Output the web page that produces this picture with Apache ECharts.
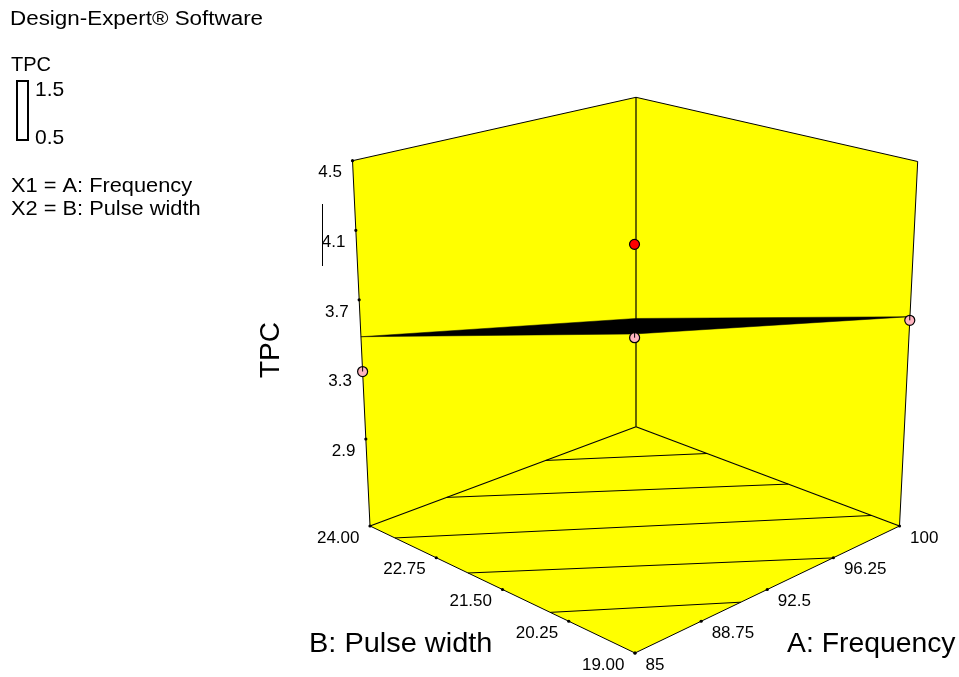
<!DOCTYPE html>
<html>
<head>
<meta charset="utf-8">
<style>
  html, body { margin: 0; padding: 0; background: #fff; }
  #chart { width: 959px; height: 677px; }
</style>
<script src="https://cdn.jsdelivr.net/npm/echarts@6/dist/echarts.min.js"></script>
</head>
<body>
<div id="chart"></div>
<script>
// axis ranges and ticks
const rangeA = [85, 100]
const rangeB = [19, 24]
const rangeTPC = [2.4, 4.5]
const ticksA = [85, 88.75, 92.5, 96.25, 100]
const labelsA = ['85', '88.75', '92.5', '96.25', '100']
const ticksB = [24, 22.75, 21.5, 20.25, 19]
const labelsB = ['24.00', '22.75', '21.50', '20.25', '19.00']
const ticksTPC = [4.5, 4.1, 3.7, 3.3, 2.9]
const labelsTPC = ['4.5', '4.1', '3.7', '3.3', '2.9']

// fitted surface, corners
const surfaceA = [85, 100, 100, 85]
const surfaceB = [19, 19, 24, 24]
const surfaceTPC = [4.034, 3.606, 3.09, 3.488]

// design runs
const runA = [85, 85, 85, 100]
const runB = [19, 19, 24, 19]
const runTPC = [4.493, 4.015, 3.288, 3.585]
const runAbove = [true, false, false, false]

// contour lines on the floor, start and end
const contourA1 = [94.9, 89.32, 85, 85, 85]
const contourB1 = [24, 24, 23.53, 22.15, 20.6]
const contourA2 = [100, 100, 100, 96.23, 91]
const contourB2 = [22.65, 21.11, 19.53, 19, 19]

// view of the box: where its 8 corners land, indexed [A hi][B hi][TPC hi]
const boxX = [[[635, 634.5], [370, 352.5]], [[899.5, 917.7], [636, 636]]]
const boxY = [[[653, 243], [526, 160.7]], [[526, 161.5], [426.7, 97.3]]]

const FONT = '"Liberation Sans", Arial, sans-serif'

function project(a, b, z) {
  const u = (a - rangeA[0]) / (rangeA[1] - rangeA[0])
  const v = (b - rangeB[0]) / (rangeB[1] - rangeB[0])
  const w = (z - rangeTPC[0]) / (rangeTPC[1] - rangeTPC[0])
  const mix = (box) => {
    const lo = (i, j) => box[i][j][0] * (1 - w) + box[i][j][1] * w
    const front = lo(0, 0) * (1 - v) + lo(0, 1) * v
    const back = lo(1, 0) * (1 - v) + lo(1, 1) * v
    return front * (1 - u) + back * u
  }
  return [mix(boxX), mix(boxY)]
}

const chart = echarts.init(document.getElementById('chart'))

function poly(api, pts, style) {
  return {
    type: 'polygon',
    shape: { points: pts.map(p => api.coord(project(p[0], p[1], p[2]))) },
    style: style
  }
}

function seg(api, p, q, width) {
  const s = api.coord(project(p[0], p[1], p[2]))
  const e = api.coord(project(q[0], q[1], q[2]))
  return {
    type: 'line',
    shape: { x1: s[0], y1: s[1], x2: e[0], y2: e[1] },
    style: { stroke: '#000', lineWidth: width }
  }
}

const [a0, a1] = rangeA
const [b0, b1] = rangeB
const [z0, z1] = rangeTPC

function renderBox(params, api) {
  const yellow = { fill: '#ffff00', stroke: null }
  return {
    type: 'group',
    children: [
      poly(api, [[a0, b1, z0], [a0, b1, z1], [a1, b1, z1], [a1, b1, z0]], yellow),
      poly(api, [[a1, b0, z0], [a1, b0, z1], [a1, b1, z1], [a1, b1, z0]], yellow),
      poly(api, [[a0, b0, z0], [a1, b0, z0], [a1, b1, z0], [a0, b1, z0]], yellow),
      seg(api, [a0, b1, z0], [a0, b1, z1], 1),
      seg(api, [a0, b1, z1], [a1, b1, z1], 1),
      seg(api, [a1, b1, z1], [a1, b0, z1], 1),
      seg(api, [a1, b0, z1], [a1, b0, z0], 1),
      seg(api, [a1, b1, z0], [a1, b1, z1], 1.2),
      seg(api, [a0, b1, z0], [a1, b1, z0], 1.2),
      seg(api, [a1, b1, z0], [a1, b0, z0], 1.2),
      seg(api, [a0, b0, z0], [a0, b1, z0], 1),
      seg(api, [a0, b0, z0], [a1, b0, z0], 1)
    ]
  }
}

function renderContour(params, api) {
  return seg(api, [api.value(0), api.value(1), z0], [api.value(2), api.value(3), z0], 1)
}

function renderSurface(params, api) {
  const pts = surfaceA.map((a, i) => [a, surfaceB[i], surfaceTPC[i]])
  return poly(api, pts, { fill: '#000', stroke: '#000', lineWidth: 0.5 })
}

function renderTick(params, api) {
  const p = api.coord(project(api.value(0), api.value(1), api.value(2)))
  const side = api.value(3)
  return {
    type: 'group',
    children: [
      { type: 'circle', shape: { cx: p[0], cy: p[1], r: 1.6 }, style: { fill: '#000' } },
      {
        type: 'text',
        style: {
          text: params.seriesId === 'ticksA' ? labelsA[params.dataIndex]
            : params.seriesId === 'ticksB' ? labelsB[params.dataIndex]
            : labelsTPC[params.dataIndex],
          x: p[0] + side * 10.5,
          y: p[1] + 12,
          align: side > 0 ? 'left' : 'right',
          verticalAlign: 'middle',
          fontFamily: FONT,
          fontSize: 17,
          fill: '#000'
        }
      }
    ]
  }
}

function renderRun(params, api) {
  const p = api.coord(project(api.value(0), api.value(1), api.value(2)))
  const above = runAbove[params.dataIndex]
  const kids = [{
    type: 'circle',
    shape: { cx: p[0], cy: p[1], r: 5 },
    style: { fill: above ? '#ff0000' : '#ffb4c0', stroke: '#000', lineWidth: 1.2 }
  }]
  if (!above) {
    kids.push({
      type: 'line',
      shape: { x1: p[0], y1: p[1] - 5, x2: p[0], y2: p[1] },
      style: { stroke: '#000', lineWidth: 1 }
    })
  }
  return { type: 'group', children: kids }
}

// the original text runs a little wider than the font, so stretch it sideways
function note(text, x, y, size, stretch) {
  return {
    type: 'text',
    silent: true,
    x: x,
    y: y,
    scaleX: stretch || 1,
    style: { text: text, fontFamily: FONT, fontSize: size, fill: '#000', align: 'left', verticalAlign: 'middle' }
  }
}

const base = { type: 'custom', coordinateSystem: 'cartesian2d', silent: true, clip: false, animation: false }

chart.setOption({
  animation: false,
  grid: { left: 0, right: 0, top: 0, bottom: 0 },
  xAxis: { type: 'value', min: 0, max: 959, show: false },
  yAxis: { type: 'value', min: 0, max: 677, inverse: true, show: false },
  series: [
    { ...base, id: 'box', z: 1, renderItem: renderBox, data: [[0, 0]] },
    {
      ...base, id: 'contours', z: 2, renderItem: renderContour,
      encode: { x: 0, y: 1 },
      data: contourA1.map((a, i) => [a, contourB1[i], contourA2[i], contourB2[i]])
    },
    { ...base, id: 'surface', z: 3, renderItem: renderSurface, data: [[0, 0]] },
    {
      ...base, id: 'ticksA', z: 4, renderItem: renderTick, encode: { x: 0, y: 1 },
      data: ticksA.map(a => [a, b0, z0, 1])
    },
    {
      ...base, id: 'ticksB', z: 4, renderItem: renderTick, encode: { x: 0, y: 1 },
      data: ticksB.map(b => [a0, b, z0, -1])
    },
    {
      ...base, id: 'ticksTPC', z: 4, renderItem: renderTick, encode: { x: 0, y: 1 },
      data: ticksTPC.map(z => [a0, b1, z, -1])
    },
    {
      ...base, id: 'runs', z: 5, renderItem: renderRun, encode: { x: 0, y: 1 },
      data: runA.map((a, i) => [a, runB[i], runTPC[i]])
    }
  ],
  graphic: [
    note('Design-Expert® Software', 10, 19, 20, 1.12),
    note('TPC', 11, 65, 20),
    note('1.5', 35, 90, 21),
    note('0.5', 35, 138, 21),
    note('X1 = A: Frequency', 11, 186, 20, 1.09),
    note('X2 = B: Pulse width', 11, 209, 20, 1.09),
    {
      type: 'rect', silent: true,
      shape: { x: 17, y: 81, width: 11, height: 59 },
      style: { fill: '#fff', stroke: '#000', lineWidth: 2 }
    },
    {
      type: 'line', silent: true,
      shape: { x1: 322.5, y1: 204, x2: 322.5, y2: 266 },
      style: { stroke: '#000', lineWidth: 1 }
    },
    {
      type: 'text', silent: true, x: 271, y: 350, rotation: Math.PI / 2,
      style: { text: 'TPC', fontFamily: FONT, fontSize: 28, fill: '#000', align: 'center', verticalAlign: 'middle' }
    },
    note('B: Pulse width', 309, 644, 28, 1.034),
    note('A: Frequency', 787, 644, 28, 1.012)
  ]
})
</script>
</body>
</html>
